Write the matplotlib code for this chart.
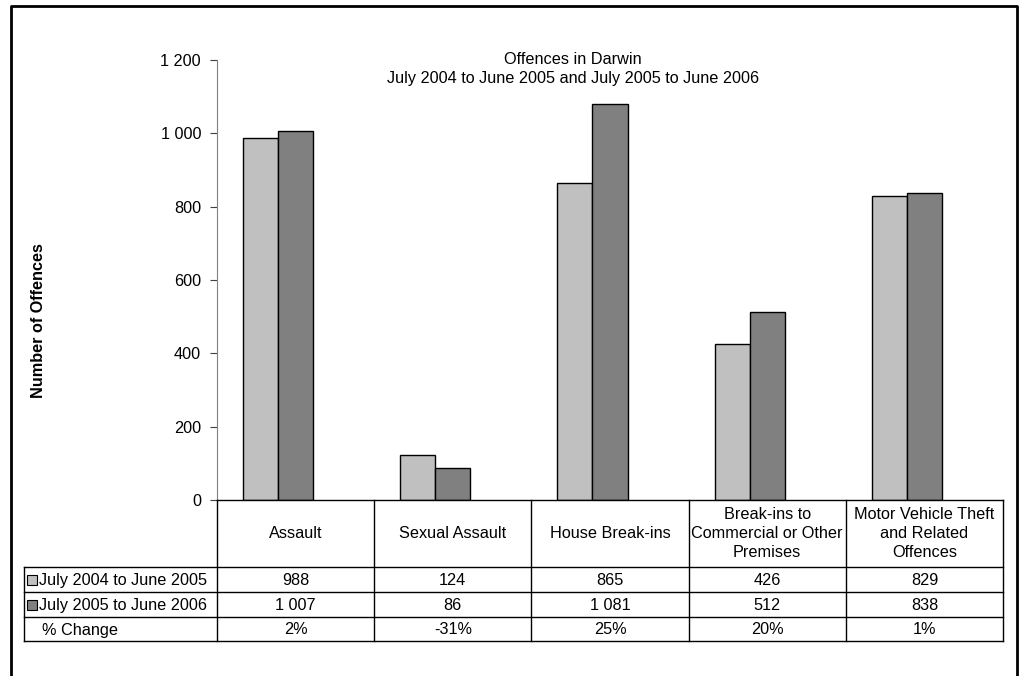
import matplotlib
matplotlib.use("Agg")
import matplotlib.pyplot as plt
from matplotlib.patches import Rectangle
from matplotlib.ticker import FuncFormatter
import numpy as np

plt.rcParams["font.family"] = ["Liberation Sans", "DejaVu Sans"]
plt.rcParams["font.size"] = 11.7

categories = ["Assault", "Sexual Assault", "House Break-ins",
              "Break-ins to\nCommercial or Other\nPremises",
              "Motor Vehicle Theft\nand Related\nOffences"]
series_names = ["July 2004 to June 2005", "July 2005 to June 2006"]
values_0405 = [988, 124, 865, 426, 829]
values_0506 = [1007, 86, 1081, 512, 838]
pct_change = ["2%", "-31%", "25%", "20%", "1%"]
colors = ["#C0C0C0", "#808080"]

W, H = 1023, 676


def fx(px):
    return px / W


def fy(py):
    return 1 - py / H


def thousands(v):
    return f"{int(v):,}".replace(",", " ")


fig = plt.figure(figsize=(W / 100, H / 100), dpi=100)

# plot area
x0, x1, ytop, ybot = 217, 1003, 60, 500
ax = fig.add_axes([fx(x0), fy(ybot), fx(x1 - x0), (ybot - ytop) / H])
ax.patch.set_visible(False)
n = len(categories)
x = np.arange(n) + 0.5
bw = 0.223
for k, vals in enumerate([values_0405, values_0506]):
    ax.bar(x + (k - 1) * bw, vals, width=bw, color=colors[k],
           edgecolor="black", linewidth=1)
ax.set_xlim(0, n)
ax.set_ylim(0, 1200)
ax.set_yticks(range(0, 1201, 200))
ax.yaxis.set_major_formatter(FuncFormatter(lambda v, p: thousands(v)))
ax.set_xticks([])
for s in ["top", "right", "bottom"]:
    ax.spines[s].set_visible(False)
ax.spines["left"].set_color("#808080")
ax.tick_params(axis="y", length=5, color="#404040", pad=6.5)

# overlay in pixel coordinates: frame, titles, data table
frame = fig.add_axes([0, 0, 1, 1])
frame.set_xlim(0, W)
frame.set_ylim(H, 0)
frame.axis("off")
frame.plot([11, 11, 1017, 1017], [H, 6, 6, H], color="black", lw=2)

frame.text(39, 321, "Number of Offences", rotation=90, fontweight="bold",
           ha="center", va="center")
frame.text(573, 59, "Offences in Darwin", ha="center", va="center")
frame.text(573, 78, "July 2004 to June 2005 and July 2005 to June 2006",
           ha="center", va="center")

rows_y = [500, 567, 592, 617, 641]
tl = 24
col_w = (x1 - x0) / n
lc = "black"
frame.plot([x0, x1], [rows_y[0], rows_y[0]], color=lc, lw=1)
for yy in rows_y[1:]:
    frame.plot([tl, x1], [yy, yy], color=lc, lw=1)
frame.plot([tl, tl], [rows_y[1], rows_y[4]], color=lc, lw=1)
for i in range(n + 1):
    xx = x0 + i * col_w
    frame.plot([xx, xx], [rows_y[0], rows_y[4]], color=lc, lw=1)

for i in range(n):
    cx = x0 + (i + 0.5) * col_w
    frame.text(cx, (rows_y[0] + rows_y[1]) / 2, categories[i], ha="center",
               va="center", linespacing=1.35)
    frame.text(cx, (rows_y[1] + rows_y[2]) / 2 + 1, thousands(values_0405[i]),
               ha="center", va="center")
    frame.text(cx, (rows_y[2] + rows_y[3]) / 2 + 1, thousands(values_0506[i]),
               ha="center", va="center")
    frame.text(cx, (rows_y[3] + rows_y[4]) / 2 + 1, pct_change[i],
               ha="center", va="center")

for k in range(2):
    cy = (rows_y[k + 1] + rows_y[k + 2]) / 2
    frame.add_patch(Rectangle((27, cy - 5), 10, 10, facecolor=colors[k],
                              edgecolor="black", lw=0.8))
    frame.text(39, cy + 1, series_names[k], ha="left", va="center")
frame.text(42, (rows_y[3] + rows_y[4]) / 2 + 1, "% Change", ha="left", va="center")

fig.savefig("out.png", dpi=100)
